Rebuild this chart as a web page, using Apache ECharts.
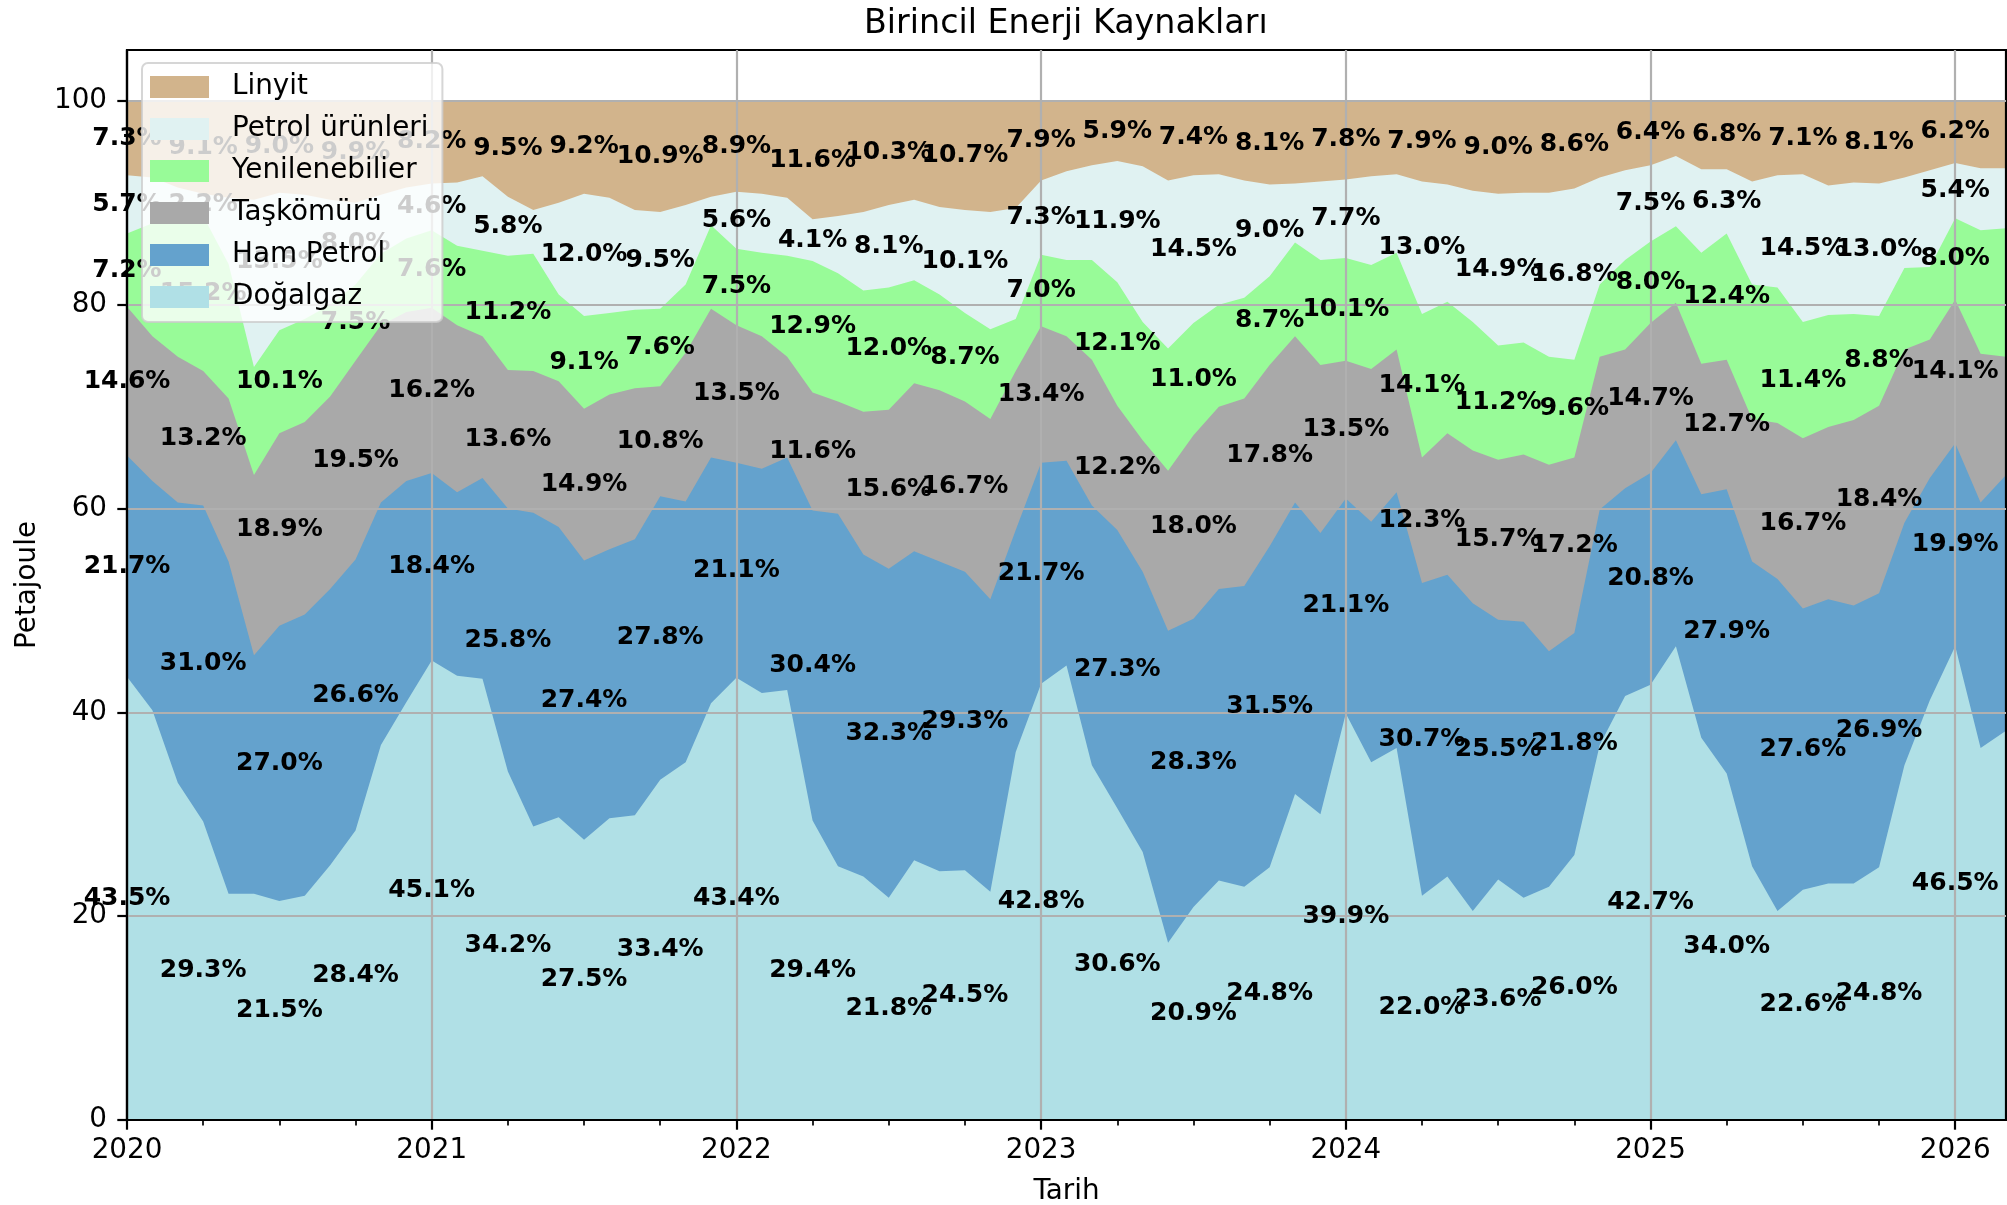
<!DOCTYPE html>
<html>
<head>
<meta charset="utf-8">
<title>Birincil Enerji Kaynakları</title>
<script src="https://cdn.jsdelivr.net/npm/echarts@6.0.0/dist/echarts.min.js"></script>
<style>
    html, body { margin: 0; padding: 0; background: #fff; }
    #main { width: 2007px; height: 1205px; }
</style>
</head>
<body>
<div id="main"></div>
<script>
    // aylık veriler, 2020-01 .. 2026-03 (yüzde)
    var yilEtiketleri = ['2020', '2021', '2022', '2023', '2024', '2025', '2026'];

    var dogalgaz = [
        43.5, 40.2, 33.1, 29.3, 22.2, 22.2, 21.5, 22.0, 25.0, 28.4, 36.8, 41.0,
        45.1, 43.6, 43.3, 34.2, 28.8, 29.7, 27.5, 29.6, 29.9, 33.4, 35.1, 40.9,
        43.4, 41.9, 42.2, 29.4, 24.9, 23.9, 21.8, 25.5, 24.4, 24.5, 22.4, 36.1,
        42.8, 44.6, 34.8, 30.6, 26.3, 17.4, 20.9, 23.5, 22.9, 24.8, 32.0, 30.0,
        39.9, 35.1, 36.5, 22.0, 23.9, 20.5, 23.6, 21.8, 22.9, 26.0, 36.8, 41.6,
        42.7, 46.5, 37.5, 34.0, 24.9, 20.5, 22.6, 23.2, 23.2, 24.8, 34.8, 41.2,
        46.5, 36.5, 38.2
    ];
    var hamPetrol = [
        21.7, 22.5, 27.5, 31.0, 32.6, 23.4, 27.0, 27.6, 27.1, 26.6, 23.8, 21.7,
        18.4, 18.0, 19.7, 25.8, 30.8, 28.5, 27.4, 26.4, 27.1, 27.8, 25.6, 24.1,
        21.1, 22.0, 22.8, 30.4, 34.6, 31.6, 32.3, 30.3, 30.4, 29.3, 28.7, 21.8,
        21.7, 20.1, 25.5, 27.3, 27.5, 30.6, 28.3, 28.6, 29.5, 31.5, 28.6, 27.6,
        21.1, 23.6, 25.1, 30.7, 29.6, 30.2, 25.5, 27.1, 23.1, 21.8, 23.1, 20.4,
        20.8, 20.2, 23.9, 27.9, 29.9, 32.6, 27.6, 27.9, 27.3, 26.9, 23.8, 21.8,
        19.9, 24.1, 25.1
    ];
    var taskomuru = [
        14.6, 14.2, 14.3, 13.2, 16.0, 17.7, 18.9, 18.9, 18.9, 19.5, 17.4, 16.6,
        16.2, 16.4, 13.9, 13.6, 13.9, 14.3, 14.9, 15.2, 14.8, 10.8, 14.6, 14.6,
        13.5, 13.0, 9.9, 11.6, 11.0, 14.0, 15.6, 16.5, 16.8, 16.7, 17.7, 15.6,
        13.4, 12.2, 14.3, 12.2, 12.9, 15.7, 18.0, 17.9, 18.4, 17.8, 16.3, 16.5,
        13.5, 15.0, 14.0, 12.3, 13.9, 15.0, 15.7, 16.4, 18.3, 17.2, 15.0, 13.6,
        14.7, 13.5, 12.8, 12.7, 14.0, 15.3, 16.7, 16.9, 18.2, 18.4, 17.0, 13.6,
        14.1, 14.6, 11.6
    ];
    var yenilenebilir = [
        7.2, 11.1, 13.6, 15.2, 13.2, 10.6, 10.1, 10.1, 9.0, 7.5, 7.0, 7.2,
        7.6, 7.8, 8.4, 11.2, 11.5, 8.5, 9.1, 8.0, 7.7, 7.6, 6.7, 8.2,
        7.5, 8.2, 9.9, 12.9, 12.6, 11.9, 12.0, 10.1, 9.4, 8.7, 8.8, 5.1,
        7.0, 7.5, 9.8, 12.1, 11.6, 12.0, 11.0, 10.0, 9.9, 8.7, 9.2, 10.3,
        10.1, 10.2, 9.5, 14.1, 12.9, 12.6, 11.2, 11.0, 10.6, 9.6, 7.1, 8.8,
        8.0, 7.5, 10.9, 12.4, 13.2, 13.3, 11.4, 11.0, 10.4, 8.8, 8.0, 7.1,
        8.0, 12.1, 12.6
    ];
    var petrolUrun = [
        5.7, 4.5, 3.0, 2.2, 6.5, 16.4, 13.5, 12.2, 10.3, 8.0, 5.8, 5.0,
        4.6, 6.2, 7.3, 5.8, 4.3, 9.0, 12.0, 11.3, 9.8, 9.5, 7.8, 2.8,
        5.6, 5.8, 5.7, 4.1, 5.6, 7.7, 8.1, 7.9, 8.6, 10.1, 11.5, 10.9,
        7.3, 8.7, 9.3, 11.9, 15.3, 16.5, 14.5, 12.8, 11.5, 9.0, 5.8, 7.7,
        7.7, 8.7, 7.7, 13.0, 11.5, 12.9, 14.9, 14.7, 16.1, 16.8, 10.5, 8.8,
        7.5, 6.9, 8.2, 6.3, 10.1, 11.0, 14.5, 12.7, 12.9, 13.0, 8.9, 9.5,
        5.4, 6.1, 5.9
    ];
    var linyit = [
        7.3, 7.5, 8.5, 9.1, 9.5, 9.7, 9.0, 9.2, 9.7, 9.9, 9.2, 8.5,
        8.2, 8.0, 7.4, 9.5, 10.7, 10.0, 9.2, 9.5, 10.7, 10.9, 10.2, 9.4,
        8.9, 9.1, 9.5, 11.6, 11.3, 10.9, 10.3, 9.7, 10.4, 10.7, 10.9, 10.5,
        7.9, 6.9, 6.3, 5.9, 6.4, 7.8, 7.4, 7.2, 7.8, 8.1, 8.1, 7.9,
        7.8, 7.4, 7.2, 7.9, 8.2, 8.8, 9.0, 9.0, 9.0, 8.6, 7.5, 6.8,
        6.4, 5.4, 6.7, 6.8, 7.9, 7.3, 7.1, 8.3, 8.0, 8.1, 7.5, 6.8,
        6.2, 6.6, 6.6
    ];

    // alttan üste sıralı
    var adlar = ['Doğalgaz', 'Ham Petrol', 'Taşkömürü', 'Yenilenebilier', 'Petrol ürünleri', 'Linyit'];
    var degerler = [dogalgaz, hamPetrol, taskomuru, yenilenebilir, petrolUrun, linyit];
    var renkler = ['#b0e0e6', '#64a2cd', '#a9a9a9', '#98fb98', '#e0f2f2', '#d2b48c'];

    var font = 'DejaVu Sans';
    var n = dogalgaz.length;
    var ayMax = n - 1;
    var yTikleri = [0, 20, 40, 60, 80, 100];

    var yilTikleri = [], ceyrekTikleri = [];
    for (var i = 0; i < yilEtiketleri.length; i++) yilTikleri.push(i * 12);
    for (var k = 3; k < ayMax; k += 3) {
        if (k % 12 != 0) ceyrekTikleri.push(k);
    };

    // kümülatif toplamlar, üstteki seri önce çizilir
    var alanSerileri = [], etiketSerileri = [];
    var alt = [];
    for (var m = 0; m < n; m++) alt.push(0);
    for (var i = 0; i < adlar.length; i++) {
        var veri = degerler[i];
        var ust = [], etiket = [];
        for (var m = 0; m < n; m++) {
            if (m % 3 == 0) etiket.push([m, alt[m] + veri[m] / 2, veri[m]]);
            alt[m] = alt[m] + veri[m];
            ust.push([m, alt[m]]);
        };
        alanSerileri.unshift({
            name: adlar[i],
            type: 'line',
            data: ust,
            z: 1,
            silent: true,
            symbol: 'none',
            showSymbol: false,
            color: renkler[i],
            itemStyle: { color: renkler[i] },
            lineStyle: { width: 0, color: renkler[i] },
            areaStyle: { color: renkler[i], opacity: 1 },
            animation: false
        });
        etiketSerileri.push({
            name: 'etiket' + i,
            type: 'scatter',
            data: etiket,
            z: 3,
            silent: true,
            clip: false,
            symbolSize: 1,
            itemStyle: { color: 'transparent', opacity: 1 },
            label: {
                show: true,
                position: 'inside',
                opacity: 1,
                color: '#000',
                fontFamily: font,
                fontWeight: 'bold',
                fontSize: 25,
                formatter: function (p) {
                    return p.value[2].toFixed(1) + '%';
                }
            },
            animation: false
        });
    };

    var myChart = echarts.init(document.getElementById('main'));
    var option = {
        animation: false,
        backgroundColor: '#fff',
        title: {
            text: 'Birincil Enerji Kaynakları',
            left: 864,
            top: 8,
            padding: 0,
            textStyle: { color: '#000', fontFamily: font, fontWeight: 'normal', fontSize: 33.3 }
        },
        legend: {
            data: adlar.slice().reverse(),
            orient: 'vertical',
            left: 142,
            top: 63,
            z: 5,
            icon: 'rect',
            itemWidth: 59,
            itemHeight: 22,
            itemGap: 14,
            selectedMode: false,
            padding: [10, 14, 11, 8],
            backgroundColor: 'rgba(255,255,255,0.8)',
            borderColor: 'rgba(204,204,204,0.8)',
            borderWidth: 2,
            borderRadius: 6,
            textStyle: {
                color: '#000',
                fontFamily: font,
                fontSize: 27.8,
                padding: [0, 0, 0, 18]
            }
        },
        grid: {
            left: 127,
            right: 1,
            top: 50,
            bottom: 85,
            z: 2,
            outerBoundsMode: 'none',
            containLabel: false,
            show: true,
            borderColor: '#000',
            borderWidth: 2.2,
            backgroundColor: 'transparent'
        },
        xAxis: [{
            type: 'value',
            min: 0,
            max: ayMax,
            interval: 12,
            z: 2,
            name: 'Tarih',
            nameLocation: 'middle',
            nameGap: 58,
            nameTextStyle: { color: '#000', fontFamily: font, fontSize: 27.8 },
            axisLine: { onZero: false, lineStyle: { color: '#000', width: 2.2 } },
            axisTick: { length: 9.7, lineStyle: { color: '#000', width: 2.2 }, customValues: yilTikleri },
            minorTick: { show: false },
            axisLabel: {
                margin: 17,
                color: '#000',
                fontFamily: font,
                fontSize: 27.8,
                customValues: yilTikleri,
                formatter: function (v) {
                    return v % 12 == 0 ? yilEtiketleri[v / 12] : '';
                }
            },
            splitLine: { show: true, lineStyle: { color: '#b0b0b0', width: 2.2 } }
        }, {
            // çeyrek tikleri
            type: 'value',
            min: 0,
            max: ayMax,
            interval: 3,
            position: 'bottom',
            z: 2,
            axisLine: { show: false, onZero: false },
            axisTick: { length: 5.6, lineStyle: { color: '#000', width: 1.7 }, customValues: ceyrekTikleri },
            axisLabel: { show: false },
            splitLine: { show: false }
        }],
        yAxis: {
            type: 'value',
            min: 0,
            max: 105,
            interval: 20,
            z: 2,
            name: 'Petajoule',
            nameLocation: 'middle',
            nameGap: 85,
            nameTextStyle: { color: '#000', fontFamily: font, fontSize: 27.8 },
            axisLine: { show: true, onZero: false, lineStyle: { color: '#000', width: 2.2 } },
            axisTick: { show: true, length: 9.7, lineStyle: { color: '#000', width: 2.2 }, customValues: yTikleri },
            axisLabel: {
                margin: 20,
                color: '#000',
                fontFamily: font,
                fontSize: 27.8,
                customValues: yTikleri
            },
            splitLine: { show: true, lineStyle: { color: '#b0b0b0', width: 2.2 } }
        },
        series: alanSerileri.concat(etiketSerileri)
    };
    myChart.setOption(option);
</script>
</body>
</html>
